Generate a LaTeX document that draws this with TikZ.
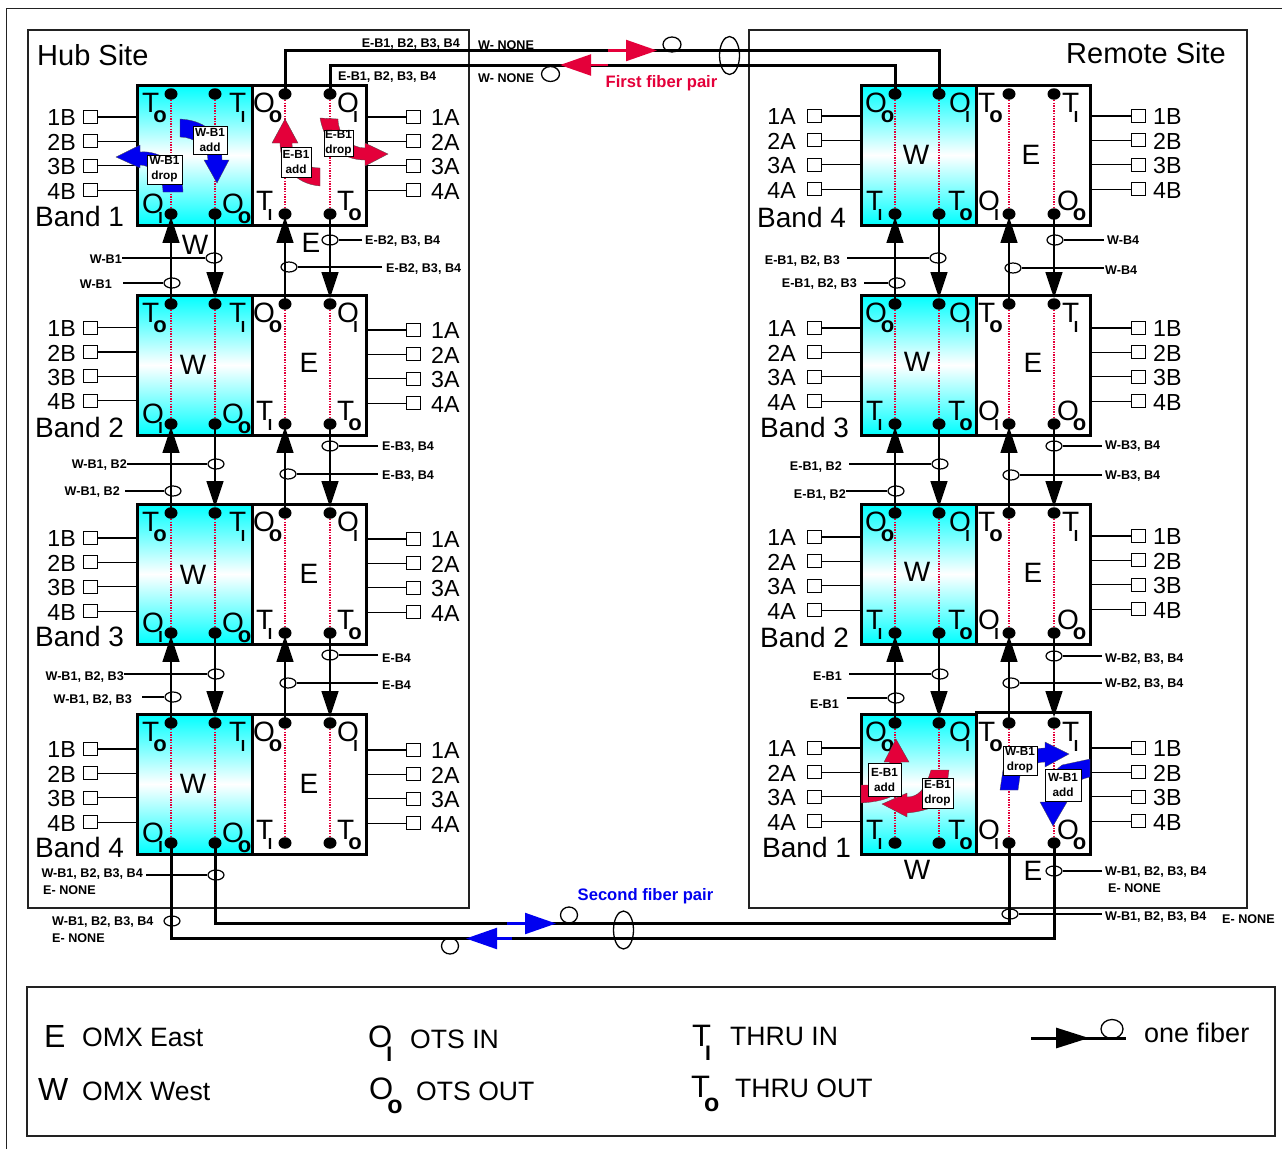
\documentclass[tikz,border=0pt]{standalone}
\usepackage{fontspec}
\setmainfont{Liberation Sans}
\usetikzlibrary{arrows.meta,shapes.geometric}
\definecolor{crim}{HTML}{E4003A}
\definecolor{blu}{HTML}{0000F0}
\definecolor{edge}{HTML}{222222}
\newcommand{\fsz}[2][]{\fontsize{#2}{#2}\selectfont}
\tikzset{
  wbox/.style={draw,line width=3pt,minimum width=115pt,minimum height=140pt,inner sep=0pt,
     top color=cyan,bottom color=cyan,middle color=white},
  ebox/.style={draw,line width=3pt,minimum width=114pt,minimum height=140pt,inner sep=0pt,fill=white},
  dotn/.style={ellipse,fill=black,minimum width=13pt,minimum height=11.5pt,inner sep=0pt},
  dotline/.style={dash pattern=on 1.4pt off 1.2pt,crim,line width=1.2pt},
  portbox/.style={draw,line width=1pt,minimum width=14pt,minimum height=13pt,inner sep=0pt,fill=white},
  wire/.style={line width=1.2pt},
  txt/.style={inner sep=0pt,font=\fsz{23.2},yshift=-1pt},
  big/.style={inner sep=0pt,font=\fsz{28}},
  tag/.style={inner sep=0pt,font=\bfseries\fsz{12.6},yshift=-1pt},
  fib/.style={ellipse,draw,line width=1.2pt,minimum width=16pt,minimum height=10pt,inner sep=0pt},
  loopn/.style={ellipse,draw,line width=1.3pt,inner sep=0pt},
  conn/.style={line width=1.5pt,-{Triangle[length=26pt,width=17pt]}},
  fat/.style={line width=3pt},
  redarrow/.style={crim,line width=2.2pt,-{Triangle[length=31pt,width=21pt]}},
  bluarrow/.style={blu,line width=2.2pt,-{Triangle[length=31pt,width=21pt]}},
  addbox/.style={draw,line width=.9pt,fill=white,inner sep=0pt,align=center,font=\bfseries\fontsize{11.8}{15}\selectfont},
  fatred/.style={fill=crim,draw=black!70,line width=.3pt},
  fatblu/.style={fill=blu,draw=black!70,line width=.3pt},
  site/.style={draw,line width=1.1pt,edge},
  legt/.style={anchor=base west,inner sep=0pt,font=\fsz{26.6}},
}
% letter with subscript: name, x, baseline y, letter, sub
\newcommand{\Sub}[5]{\node[anchor=base west,inner sep=0pt,name=#1] at (#2,#3)
  {\fsz{28}#4\ifx o#5\kern-6pt\raisebox{-10pt}{\bfseries\fsz{22}o}\else\kern-5.5pt\raisebox{-10pt}{\bfseries\fsz{16}I}\fi};}
\newcommand{\SubK}[5]{\node[anchor=base west,inner sep=0pt,name=#1] at (#2,#3)
  {\fsz{31}#4\ifx o#5\kern-6pt\raisebox{-14pt}{\bfseries\fsz{25}o}\else\kern-6pt\raisebox{-14pt}{\bfseries\fsz{21}I}\fi};}
\newcommand{\Core}[4][0]{%
  \node[wbox,name=#2-W] at (#4+57.5,#3+70) {};
  \node[ebox,minimum height=140pt+#1pt,name=#2-E] at (#4+172,#3+70-#1/2) {};
  \foreach \k/\dx in {a/34,b/78,c/148,d/193}{
    \node[dotn,name=#2-\k-t] at (#4+\dx,#3+9) {};
    \node[dotn,name=#2-\k-b] at (#4+\dx,#3+129) {};
    \draw[dotline] (#2-\k-t) -- (#2-\k-b);
  }}
\newcommand{\HubLabs}[3]{%
  \Sub{#1-l1}{#3+5}{#2+27}{T}{o}
  \Sub{#1-l2}{#3+92}{#2+27}{T}{I}
  \Sub{#1-l3}{#3+5}{#2+128}{O}{I}
  \Sub{#1-l4}{#3+85}{#2+128}{O}{o}
  \Sub{#1-l5}{#3+116}{#2+27}{O}{o}
  \Sub{#1-l6}{#3+200}{#2+27}{O}{I}
  \Sub{#1-l7}{#3+119}{#2+125}{T}{I}
  \Sub{#1-l8}{#3+200}{#2+125}{T}{o}}
\newcommand{\RemLabs}[3]{%
  \Sub{#1-l1}{#3+4}{#2+27}{O}{o}
  \Sub{#1-l2}{#3+88}{#2+27}{O}{I}
  \Sub{#1-l3}{#3+5}{#2+125}{T}{I}
  \Sub{#1-l4}{#3+87}{#2+125}{T}{o}
  \Sub{#1-l5}{#3+117}{#2+27}{T}{o}
  \Sub{#1-l6}{#3+201}{#2+27}{T}{I}
  \Sub{#1-l7}{#3+117}{#2+125}{O}{I}
  \Sub{#1-l8}{#3+196}{#2+125}{O}{o}}
% ports: name, first y, square x, label x, suffix, box
\newcommand{\PortsL}[6]{%
  \foreach \i/\d in {1/0,2/24.4,3/48.8,4/73.2}{
    \node[portbox,name=#1-#5\i] at (#3,#2+\d) {};
    \node[txt,anchor=east,name=#1-#5\i-t] at (#4,#2+\d) {\i#5};
    \draw[wire] (#1-#5\i.east) -- (#1-#5\i.east -| #6.west);
  }}
\newcommand{\PortsR}[6]{%
  \foreach \i/\d in {1/0,2/24.4,3/48.8,4/73.2}{
    \node[portbox,name=#1-#5\i] at (#3,#2+\d) {};
    \node[txt,anchor=west,name=#1-#5\i-t] at (#4,#2+\d) {\i#5};
    \draw[wire] (#1-#5\i.west) -- (#1-#5\i.west -| #6.east);
  }}
% tag to the left of a fibre mark: name, fx, fy, text end x, text y, gap, text
\newcommand{\TagL}[7]{%
  \node[fib,name=#1] at (#2,#3) {};
  \node[tag,anchor=east,name=#1-t] at (#4,#5) {#7};
  \draw[wire] ([xshift=#6pt]#1-t.east |- #1.west) -- (#1.west);}
\newcommand{\TagR}[7]{%
  \node[fib,name=#1] at (#2,#3) {};
  \node[tag,anchor=west,name=#1-t] at (#4,#5) {#7};
  \draw[wire] ([xshift=-#6pt]#1-t.west |- #1.east) -- (#1.east);}
\newcommand{\Gap}[2]{%
  \draw[conn,shorten >=-3pt] (#2-a-t.center) -- (#1-a-b.south);
  \draw[conn] (#1-b-b.center) -- (#2-b-t.north);
  \draw[conn,shorten >=-3pt] (#2-c-t.center) -- (#1-c-b.south);
  \draw[conn] (#1-d-b.center) -- (#2-d-t.north);}
\begin{document}
\begin{tikzpicture}[x=1pt,y=-1pt]
\useasboundingbox (0,0) rectangle (1282,1149);
\fill[white] (0,0) rectangle (1282,1149);
\draw[line width=1pt,edge] (6,1149) -- (6,8) -- (1282,8);
\node[site,minimum width=441pt,minimum height=878pt,name=hubsite] at (248.5,469) {};
\node[site,minimum width=498pt,minimum height=878pt,name=remsite] at (998,469) {};
\node[site,minimum width=1248pt,minimum height=149pt,line width=1.4pt,name=legend] at (651,1061.5) {};
\node[anchor=base west,inner sep=0pt,font=\fsz{29},name=hubt] at (37,65) {Hub Site};
\node[anchor=base east,inner sep=0pt,font=\fsz{29},name=remt] at (1226,63) {Remote Site};

% modules
\Core{h1}{85}{137}\Core{h2}{295}{137}\Core{h3}{504}{137}\Core{h4}{714}{137}
\Core{r1}{85}{861}\Core{r2}{295}{861}\Core{r3}{504}{861}\Core[2]{r4}{714}{861}
\HubLabs{h1}{85}{137}\HubLabs{h2}{295}{137}\HubLabs{h3}{504}{137}\HubLabs{h4}{714}{137}
\RemLabs{r1}{85}{861}\RemLabs{r2}{295}{861}\RemLabs{r3}{504}{861}\RemLabs{r4}{714}{861}

% ports
\PortsL{h1}{117}{90}{76}{B}{h1-W}\PortsL{h2}{327.5}{90}{76}{B}{h2-W}\PortsL{h3}{538}{90}{76}{B}{h3-W}\PortsL{h4}{749}{90}{76}{B}{h4-W}
\PortsR{h1}{117}{413}{431}{A}{h1-E}\PortsR{h2}{330}{413}{431}{A}{h2-E}\PortsR{h3}{539}{413}{431}{A}{h3-E}\PortsR{h4}{750}{413}{431}{A}{h4-E}
\PortsL{r1}{116}{814}{796}{A}{r1-W}\PortsL{r2}{328}{814}{796}{A}{r2-W}\PortsL{r3}{537}{814}{796}{A}{r3-W}\PortsL{r4}{748}{814}{796}{A}{r4-W}
\PortsR{r1}{116}{1138}{1153}{B}{r1-E}\PortsR{r2}{328}{1138}{1153}{B}{r2-E}\PortsR{r3}{536}{1138}{1153}{B}{r3-E}\PortsR{r4}{748}{1138}{1153}{B}{r4-E}

% band labels
\node[big,anchor=base west,name=b1] at (35,226) {Band 1};
\node[big,anchor=base west,name=b2] at (35,437) {Band 2};
\node[big,anchor=base west,name=b3] at (35,646) {Band 3};
\node[big,anchor=base west,name=b4] at (35,857) {Band 4};
\node[big,anchor=base west,name=b5] at (757,227) {Band 4};
\node[big,anchor=base west,name=b6] at (760,437) {Band 3};
\node[big,anchor=base west,name=b7] at (760,647) {Band 2};
\node[big,anchor=base west,name=b8] at (762,857) {Band 1};

% W and E
\foreach \n/\x/\y/\t in {wa/195/245/W,ea/311/243/E,wb/193/365/W,eb/309/363/E,wc/193/575/W,ec/309/574/E,wd/193/784/W,ed/309/784/E,
  we/916/155/W,ee/1031/155/E,wf/917/362/W,ef/1033/363/E,wg/917/572/W,eg/1033/573/E,wh/917/870/W,eh/1033/871/E}{
  \node[big,name=\n] at (\x,\y) {\t};
}

% gaps
\Gap{h1}{h2}\Gap{h2}{h3}\Gap{h3}{h4}
\Gap{r1}{r2}\Gap{r2}{r3}\Gap{r3}{r4}

% fibre marks and tags: hub
\TagL{fa}{214}{258}{122}{258}{0}{W-B1}
\TagL{fb}{172}{283}{112}{283}{11}{W-B1}
\TagR{fc}{330}{240}{365}{240}{3}{E-B2, B3, B4}
\TagR{fd}{289}{267}{386}{268}{4}{E-B2, B3, B4}
\TagL{fe}{216}{464}{127}{464}{0}{W-B1, B2}
\TagL{ff}{173}{491}{120}{491}{5}{W-B1, B2}
\TagR{fg}{330}{446}{382}{446}{4}{E-B3, B4}
\TagR{fh}{288}{474}{382}{475}{4}{E-B3, B4}
\TagL{fi}{216}{674}{124}{676}{0}{W-B1, B2, B3}
\TagL{fj}{173}{697}{132}{699}{10}{W-B1, B2, B3}
\TagR{fk}{330}{655}{382}{657}{4}{E-B4}
\TagR{fl}{288}{683}{382}{684}{4}{E-B4}
% remote
\TagL{ga}{938}{258}{840}{260}{7}{E-B1, B2, B3}
\TagL{gb}{897}{283}{857}{283}{7}{E-B1, B2, B3}
\TagR{gc}{1055}{240}{1107}{239}{3}{W-B4}
\TagR{gd}{1013}{268}{1105}{269}{1}{W-B4}
\TagL{ge}{940}{464}{842}{466}{7}{E-B1, B2}
\TagL{gf}{896}{491}{846}{494}{0}{E-B1, B2}
\TagR{gg}{1054}{446}{1105}{445}{3}{W-B3, B4}
\TagR{gh}{1011}{475}{1105}{475}{3}{W-B3, B4}
\TagL{gi}{940}{674}{842}{675}{7}{E-B1}
\TagL{gj}{896}{698}{839}{703}{8}{E-B1}
\TagR{gk}{1054}{656}{1105}{658}{3}{W-B2, B3, B4}
\TagR{gl}{1011}{683}{1105}{683}{3}{W-B2, B3, B4}
% bottom
\TagL{fm}{216}{875}{143}{873}{3}{W-B1, B2, B3, B4}
\TagR{gm}{1054}{871}{1105}{871}{3}{W-B1, B2, B3, B4}
\TagR{gn}{1010}{914}{1105}{916}{3}{W-B1, B2, B3, B4}
\node[fib,name=fn] at (172,921) {};
\node[tag,anchor=west,name=fn-t] at (52,921) {W-B1, B2, B3, B4};
\node[tag,anchor=west,name=tn1] at (43,889) {E- NONE};
\node[tag,anchor=west,name=tn2] at (52,937) {E- NONE};
\node[tag,anchor=west,name=tn3] at (1108,887) {E- NONE};
\node[tag,anchor=west,name=tn4] at (1222,918) {E- NONE};

% fibre pairs
\coordinate (ya) at (0,50.5);
\coordinate (yb) at (0,65);
\coordinate (yc) at (0,923.5);
\coordinate (yd) at (0,938.5);
\draw[fat] (h1-c-t.center) -- (h1-c-t.center |- ya) -- (r1-b-t.center |- ya) -- (r1-b-t.center);
\draw[fat] (h1-d-t.center) -- (h1-d-t.center |- yb) -- (r1-a-t.center |- yb) -- (r1-a-t.center);
\draw[fat] (h4-b-b.center) -- (h4-b-b.center |- yc) -- (r4-c-b.center |- yc) -- (r4-c-b.center);
\draw[fat] (h4-a-b.center) -- (h4-a-b.center |- yd) -- (r4-d-b.center |- yd) -- (r4-d-b.center);
\coordinate (ra0) at (608,50.5); \coordinate (ra1) at (657,50.5);
\coordinate (rb0) at (608,65);   \coordinate (rb1) at (560,65);
\coordinate (ba0) at (507,923.5); \coordinate (ba1) at (556,923.5);
\coordinate (bb0) at (512,938.5); \coordinate (bb1) at (466,938.5);
\draw[redarrow] (ra0) -- (ra1);
\draw[redarrow] (rb0) -- (rb1);
\draw[bluarrow] (ba0) -- (ba1);
\draw[bluarrow] (bb0) -- (bb1);
\node[loopn,minimum width=18pt,minimum height=15pt,name=la] at (672,44.5) {};
\node[loopn,minimum width=18pt,minimum height=15pt,name=lb] at (550.5,74) {};
\node[loopn,minimum width=20pt,minimum height=38pt,name=lc] at (729.5,55.5) {};
\node[loopn,minimum width=17pt,minimum height=16pt,name=ld] at (569,915) {};
\node[loopn,minimum width=17pt,minimum height=16pt,name=le] at (450,946) {};
\node[loopn,minimum width=20pt,minimum height=38pt,name=lf] at (623.5,930) {};
\node[tag,anchor=east,name=ta] at (460,43) {E-B1, B2, B3, B4};
\node[tag,anchor=west,name=tb] at (478,44) {W- NONE};
\node[tag,anchor=west,name=tc] at (338,76) {E-B1, B2, B3, B4};
\node[tag,anchor=west,name=td] at (478,77) {W- NONE};
\node[inner sep=0pt,crim,font=\bfseries\fsz{16.6},name=te] at (661.5,83) {First fiber pair};
\node[inner sep=0pt,blu,font=\bfseries\fsz{16.6},name=tf] at (645.5,896) {Second fiber pair};

% add / drop arrows, hub
\fill[fatblu] (116,157)--(140,145)--(140,152) .. controls (160,150) and (183,165) .. (183,192) -- (163,192) .. controls (163,175) and (150,165) .. (140,165)--(140,168)--cycle;
\fill[fatblu] (180,119) .. controls (200,120) and (222,130) .. (222,160) -- (229,160) -- (217,183) -- (204,160) -- (208,160) .. controls (208,148) and (195,137) .. (180,137) -- cycle;
\fill[fatred] (285,119)--(298,143)--(292,143) .. controls (292,160) and (305,168) .. (320,168) -- (320,186) .. controls (295,184) and (280,165) .. (280,143) -- (272,143) -- cycle;
\fill[fatred] (320,118)--(338,119) .. controls (338,135) and (350,148) .. (365,148) -- (365,143)--(388,154)--(365,166)--(365,160) .. controls (342,160) and (325,145) .. (320,118) -- cycle;
\node[addbox,minimum width=35pt,minimum height=29pt,name=aa] at (164.5,169.5) {W-B1\\drop};
\node[addbox,minimum width=34pt,minimum height=28pt,name=ab] at (210,140) {W-B1\\add};
\node[addbox,minimum width=30pt,minimum height=30pt,name=ac] at (296,162) {E-B1\\add};
\node[addbox,minimum width=29pt,minimum height=26pt,name=ad] at (338.5,143) {E-B1\\drop};
% add / drop arrows, remote
\fill[fatred] (896,739)--(909,762)--(901,762)--(901,790) .. controls (890,800) and (875,802) .. (861,803)--(861,785)--(880,785)--(890,762)--(884,762)--cycle;
\fill[fatred] (882,804)--(907,793)--(907,797) .. controls (918,797) and (925,790) .. (931,770)--(949,770)--(945,800) .. controls (935,808) and (920,812) .. (907,813)--(907,817)--cycle;
\fill[fatblu] (1069,754)--(1045,767)--(1045,762) .. controls (1035,762) and (1024,768) .. (1020,776)--(1018,790)--(1000,790)--(1003,770) .. controls (1015,755) and (1030,748) .. (1045,748)--(1045,742)--cycle;
\fill[fatblu] (1053,826)--(1040,802)--(1046,802) .. controls (1046,785) and (1052,772) .. (1062,765)--(1090,759)--(1090,777) .. controls (1075,780) and (1063,790) .. (1060,802)--(1067,802)--cycle;
\node[addbox,minimum width=33pt,minimum height=33pt,name=ae] at (884.5,779.5) {E-B1\\add};
\node[addbox,minimum width=31pt,minimum height=30pt,name=af] at (937.5,793) {E-B1\\drop};
\node[addbox,minimum width=34pt,minimum height=29pt,name=ag] at (1020,760.5) {W-B1\\drop};
\node[addbox,minimum width=36pt,minimum height=32pt,name=ah] at (1063,785) {W-B1\\add};

% legend
\node[legt,font=\fsz{32},name=k1] at (44,1047) {E};
\node[legt,name=k2] at (82,1046) {OMX East};
\node[legt,font=\fsz{32},name=k3] at (38,1100) {W};
\node[legt,name=k4] at (82,1100) {OMX West};
\SubK{k5}{368}{1047}{O}{I}
\node[legt,name=k6] at (410,1048) {OTS IN};
\SubK{k7}{369}{1099}{O}{o}
\node[legt,name=k8] at (416,1100) {OTS OUT};
\SubK{k9}{692}{1046}{T}{I}
\node[legt,name=k10] at (730,1045) {THRU IN};
\SubK{k11}{691}{1097}{T}{o}
\node[legt,name=k12] at (735,1097) {THRU OUT};
\node[legt,font=\fsz{27},name=k13] at (1144,1042) {one fiber};
\coordinate (ka) at (1031,1038); \coordinate (kb) at (1089,1038); \coordinate (kc) at (1126,1038);
\draw[fat] (ka) -- (kc);
\draw[line width=3pt,-{Triangle[length=33pt,width=20pt]}] (ka) -- (kb);
\node[loopn,minimum width=22pt,minimum height=19pt,name=kd] at (1112,1029) {};
\end{tikzpicture}
\end{document}
